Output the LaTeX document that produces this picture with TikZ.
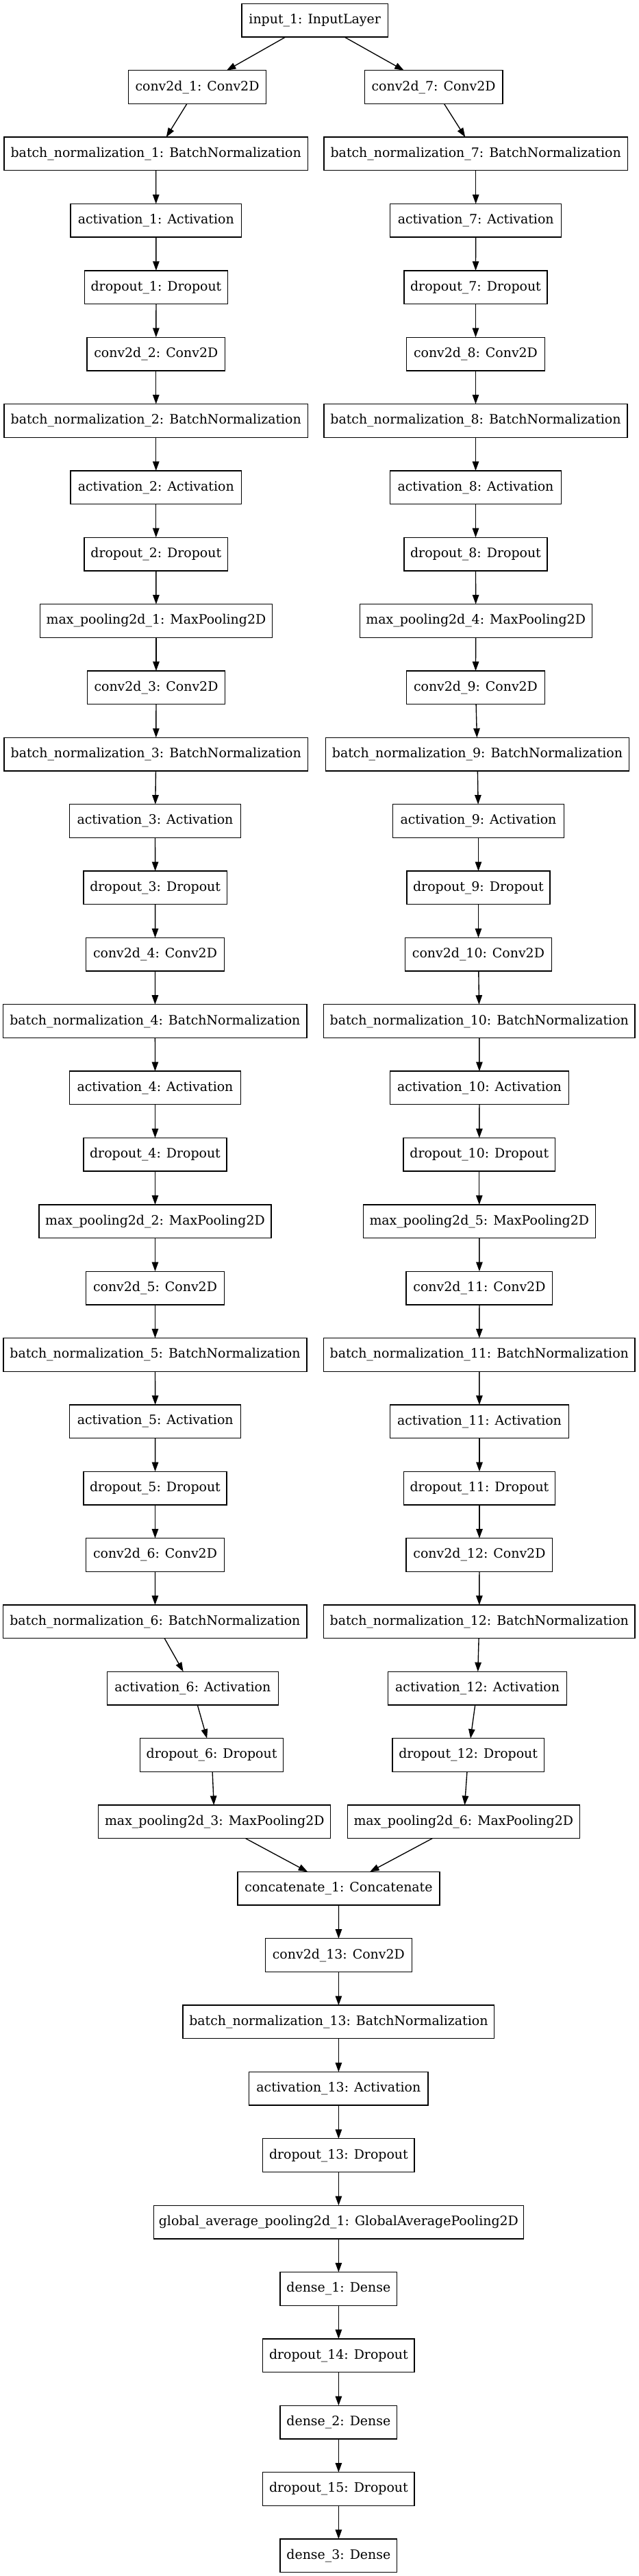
\documentclass[tikz,border=0pt]{standalone}
\usepackage{fontspec}
\setmainfont{DejaVu Serif}
\usetikzlibrary{arrows.meta}
\begin{document}
\begin{tikzpicture}[x=0.73953pt,y=-72pt,
  layer/.style={draw=black,line width=1pt,inner sep=0pt,outer sep=0pt,minimum height=36pt,font=\fontsize{14pt}{16pt}\selectfont},
  wcv/.style={layer,minimum width=149pt},
  wcvv/.style={layer,minimum width=158pt},
  wbn/.style={layer,minimum width=327.8pt},
  wbnn/.style={layer,minimum width=336.2pt},
  wac/.style={layer,minimum width=184.7pt},
  wacc/.style={layer,minimum width=193.2pt},
  wdr/.style={layer,minimum width=154.8pt},
  wdrr/.style={layer,minimum width=163.7pt},
  wmp/.style={layer,minimum width=250.7pt},
  wde/.style={layer,minimum width=126.3pt},
  conn/.style={-{Triangle[length=10pt,width=7pt]},line width=1pt,black}]
\useasboundingbox (0,-0.305556) rectangle (933,38.305556);
% top
\node[layer,minimum width=158pt] (in1) at (459.7,0) {input\_1: InputLayer};
% left column
\node[wcv] (c1) at (288.0,1) {conv2d\_1: Conv2D};
\node[wbn] (b1) at (227.7,2) {batch\_normalization\_1: BatchNormalization};
\node[wac] (a1) at (227.8,3) {activation\_1: Activation};
\node[wdr] (d1) at (228.0,4) {dropout\_1: Dropout};
\node[wcv] (c2) at (227.8,5) {conv2d\_2: Conv2D};
\node[wbn] (b2) at (227.8,6) {batch\_normalization\_2: BatchNormalization};
\node[wac] (a2) at (227.8,7) {activation\_2: Activation};
\node[wdr] (d2) at (227.8,8) {dropout\_2: Dropout};
\node[wmp] (m1) at (228.0,9) {max\_pooling2d\_1: MaxPooling2D};
\node[wcv] (c3) at (228.0,10) {conv2d\_3: Conv2D};
\node[wbn] (b3) at (227.8,11) {batch\_normalization\_3: BatchNormalization};
\node[wac] (a3) at (226.5,12) {activation\_3: Activation};
\node[wdr] (d3) at (226.7,13) {dropout\_3: Dropout};
\node[wcv] (c4) at (226.5,14) {conv2d\_4: Conv2D};
\node[wbn] (b4) at (226.4,15) {batch\_normalization\_4: BatchNormalization};
\node[wac] (a4) at (226.5,16) {activation\_4: Activation};
\node[wdr] (d4) at (226.5,17) {dropout\_4: Dropout};
\node[wmp] (m2) at (226.5,18) {max\_pooling2d\_2: MaxPooling2D};
\node[wcv] (c5) at (226.5,19) {conv2d\_5: Conv2D};
\node[wbn] (b5) at (226.5,20) {batch\_normalization\_5: BatchNormalization};
\node[wac] (a5) at (226.7,21) {activation\_5: Activation};
\node[wdr] (d5) at (226.5,22) {dropout\_5: Dropout};
\node[wcv] (c6) at (226.5,23) {conv2d\_6: Conv2D};
\node[wbn] (b6) at (226.4,24) {batch\_normalization\_6: BatchNormalization};
\node[wac] (a6) at (281.4,25) {activation\_6: Activation};
\node[wdr] (d6) at (309.1,26) {dropout\_6: Dropout};
\node[wmp] (m3) at (313.3,27) {max\_pooling2d\_3: MaxPooling2D};
% right column
\node[wcv] (c7) at (633.1,1) {conv2d\_7: Conv2D};
\node[wbn] (b7) at (694.7,2) {batch\_normalization\_7: BatchNormalization};
\node[wac] (a7) at (694.7,3) {activation\_7: Activation};
\node[wdr] (d7) at (694.5,4) {dropout\_7: Dropout};
\node[wcv] (c8) at (694.5,5) {conv2d\_8: Conv2D};
\node[wbn] (b8) at (694.5,6) {batch\_normalization\_8: BatchNormalization};
\node[wac] (a8) at (694.5,7) {activation\_8: Activation};
\node[wdr] (d8) at (694.5,8) {dropout\_8: Dropout};
\node[wmp] (m4) at (694.7,9) {max\_pooling2d\_4: MaxPooling2D};
\node[wcv] (c9) at (694.5,10) {conv2d\_9: Conv2D};
\node[wbn] (b9) at (697.0,11) {batch\_normalization\_9: BatchNormalization};
\node[wac] (a9) at (698.5,12) {activation\_9: Activation};
\node[wdr] (d9) at (698.5,13) {dropout\_9: Dropout};
\node[wcvv] (c10) at (698.5,14) {conv2d\_10: Conv2D};
\node[wbnn] (b10) at (699.8,15) {batch\_normalization\_10: BatchNormalization};
\node[wacc] (a10) at (700.0,16) {activation\_10: Activation};
\node[wdrr] (d10) at (699.8,17) {dropout\_10: Dropout};
\node[wmp] (m5) at (699.8,18) {max\_pooling2d\_5: MaxPooling2D};
\node[wcvv] (c11) at (700.0,19) {conv2d\_11: Conv2D};
\node[wbnn] (b11) at (699.8,20) {batch\_normalization\_11: BatchNormalization};
\node[wacc] (a11) at (700.0,21) {activation\_11: Activation};
\node[wdrr] (d11) at (700.0,22) {dropout\_11: Dropout};
\node[wcvv] (c12) at (700.0,23) {conv2d\_12: Conv2D};
\node[wbnn] (b12) at (699.8,24) {batch\_normalization\_12: BatchNormalization};
\node[wacc] (a12) at (697.1,25) {activation\_12: Activation};
\node[wdrr] (d12) at (683.7,26) {dropout\_12: Dropout};
\node[wmp] (m6) at (676.8,27) {max\_pooling2d\_6: MaxPooling2D};
% merged trunk
\node[layer,minimum width=218.2pt] (cat) at (494.5,28) {concatenate\_1: Concatenate};
\node[wcvv] (c13) at (494.4,29) {conv2d\_13: Conv2D};
\node[wbnn] (b13) at (494.4,30) {batch\_normalization\_13: BatchNormalization};
\node[wacc] (a13) at (494.4,31) {activation\_13: Activation};
\node[wdrr] (d13) at (494.4,32) {dropout\_13: Dropout};
\node[layer,minimum width=399.6pt] (gap) at (494.4,33) {global\_average\_pooling2d\_1: GlobalAveragePooling2D};
\node[wde] (den1) at (494.4,34) {dense\_1: Dense};
\node[wdrr] (d14) at (494.4,35) {dropout\_14: Dropout};
\node[wde] (den2) at (494.4,36) {dense\_2: Dense};
\node[wdrr] (d15) at (494.4,37) {dropout\_15: Dropout};
\node[wde] (den3) at (494.4,38) {dense\_3: Dense};
% connectors
\draw[conn] (in1) -- (c1);
\draw[conn] (in1) -- (c7);
\foreach \u/\v in {c1/b1,b1/a1,a1/d1,d1/c2,c2/b2,b2/a2,a2/d2,d2/m1,m1/c3,c3/b3,b3/a3,a3/d3,d3/c4,c4/b4,b4/a4,a4/d4,d4/m2,m2/c5,c5/b5,b5/a5,a5/d5,d5/c6,c6/b6,b6/a6,a6/d6,d6/m3,
  c7/b7,b7/a7,a7/d7,d7/c8,c8/b8,b8/a8,a8/d8,d8/m4,m4/c9,c9/b9,b9/a9,a9/d9,d9/c10,c10/b10,b10/a10,a10/d10,d10/m5,m5/c11,c11/b11,b11/a11,a11/d11,d11/c12,c12/b12,b12/a12,a12/d12,d12/m6,
  m3/cat,m6/cat,cat/c13,c13/b13,b13/a13,a13/d13,d13/gap,gap/den1,den1/d14,d14/den2,den2/d15,d15/den3}
  \draw[conn] (\u) -- (\v);
\end{tikzpicture}
\end{document}
